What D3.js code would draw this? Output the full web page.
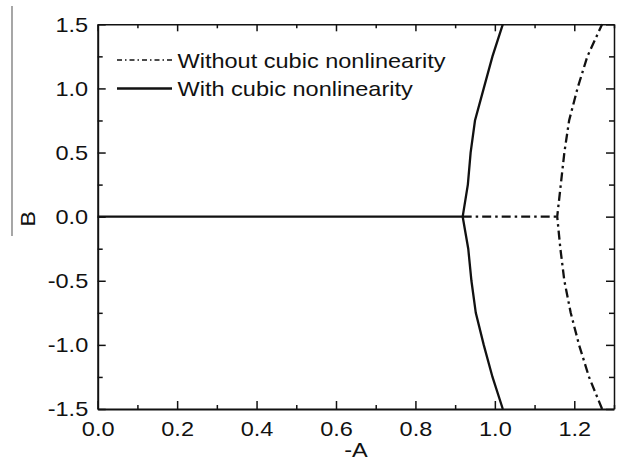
<!DOCTYPE html>
<html><head><meta charset="utf-8">
<script src="https://cdn.jsdelivr.net/npm/d3@7/dist/d3.min.js"></script>
<style>
html,body{margin:0;padding:0;background:#fff;}
svg text{font-family:"Liberation Sans",Arial,sans-serif;fill:#111;}
</style></head>
<body>
<svg id="chart" width="625" height="471"></svg>
<script>
// ---- data ----
const bValues = [-1.5, -1.25, -1.0, -0.75, -0.5, -0.25, 0, 0.25, 0.5, 0.75, 1.0, 1.25, 1.5];
const withCubicA = [1.020, 0.994, 0.972, 0.952, 0.941, 0.933, 0.919, 0.932, 0.939, 0.950, 0.972, 0.994, 1.020];
const withoutCubicA = [1.270, 1.237, 1.212, 1.191, 1.175, 1.165, 1.157, 1.166, 1.175, 1.187, 1.208, 1.233, 1.270];
const withBranchA = [0, 0.919];          // B = 0 branch (solid)
const withoutBranchA = [0.919, 1.157];   // B = 0 branch (dash-dot)
const xTicks = [0.0, 0.2, 0.4, 0.6, 0.8, 1.0, 1.2];
const yTicks = [-1.5, -1.0, -0.5, 0.0, 0.5, 1.0, 1.5];
const legendLabels = ["Without cubic nonlinearity", "With cubic nonlinearity"];
const xLabel = "-A", yLabel = "B";

const svg = d3.select("#chart");
const L = 97.7, R = 614, T = 24.3, Bt = 409;
const x = d3.scaleLinear().domain([0, 1.3]).range([L, R]);
const y = d3.scaleLinear().domain([-1.5, 1.5]).range([Bt, T]);
const STRETCH = 1.12;
function stretch(sel){ sel.each(function(){ const w=this.getComputedTextLength(); this.setAttribute("textLength", w*STRETCH); this.setAttribute("lengthAdjust","spacingAndGlyphs"); }); }

// scan artifact line at left
svg.append("line").attr("x1",12).attr("x2",12).attr("y1",6).attr("y2",236)
  .attr("stroke","#777").attr("stroke-width",1.3);

const minorX = d3.range(0, 1.31, 0.1).map(v=>+v.toFixed(2)).filter(v=>!xTicks.some(t=>Math.abs(t-v)<1e-6));
const minorY = d3.range(-1.5, 1.51, 0.25).map(v=>+v.toFixed(2)).filter(v=>!yTicks.some(t=>Math.abs(t-v)<1e-6));

function styleAxis(g, w){ g.select(".domain").attr("stroke","#111").attr("stroke-width",w); g.selectAll(".tick line").attr("stroke","#111").attr("stroke-width",1.5); }

// bottom
const gb = svg.append("g").attr("transform",`translate(0,${Bt})`)
  .call(d3.axisBottom(x).tickValues(xTicks).tickFormat(d3.format(".1f")).tickSizeInner(-8).tickSizeOuter(0).tickPadding(12.5));
styleAxis(gb,2);
gb.selectAll("text").attr("font-size",21).attr("fill","#111").call(stretch);
svg.append("g").attr("transform",`translate(0,${Bt})`)
  .call(d3.axisBottom(x).tickValues(minorX).tickFormat("").tickSizeInner(-4).tickSizeOuter(0))
  .call(g=>{g.select(".domain").remove(); g.selectAll("line").attr("stroke","#111").attr("stroke-width",1.5);});
// top
const gt = svg.append("g").attr("transform",`translate(0,${T})`)
  .call(d3.axisTop(x).tickValues(xTicks).tickFormat("").tickSizeInner(-7).tickSizeOuter(0));
styleAxis(gt,1.5);
svg.append("g").attr("transform",`translate(0,${T})`)
  .call(d3.axisTop(x).tickValues(minorX).tickFormat("").tickSizeInner(-4).tickSizeOuter(0))
  .call(g=>{g.select(".domain").remove(); g.selectAll("line").attr("stroke","#111").attr("stroke-width",1.5);});
// left
const gl = svg.append("g").attr("transform",`translate(${L},0)`)
  .call(d3.axisLeft(y).tickValues(yTicks).tickFormat(d3.format(".1f")).tickSizeInner(-8).tickSizeOuter(0).tickPadding(9.5));
styleAxis(gl,2);
gl.selectAll("text").attr("font-size",21).attr("fill","#111").text(d=>d3.format(".1f")(d).replace("−","-")).call(stretch);
svg.append("g").attr("transform",`translate(${L},0)`)
  .call(d3.axisLeft(y).tickValues(minorY).tickFormat("").tickSizeInner(-5).tickSizeOuter(0))
  .call(g=>{g.select(".domain").remove(); g.selectAll("line").attr("stroke","#111").attr("stroke-width",1.5);});
// right
const gr = svg.append("g").attr("transform",`translate(${R},0)`)
  .call(d3.axisRight(y).tickValues(yTicks).tickFormat("").tickSizeInner(-8).tickSizeOuter(0));
styleAxis(gr,1.5);
svg.append("g").attr("transform",`translate(${R},0)`)
  .call(d3.axisRight(y).tickValues(minorY).tickFormat("").tickSizeInner(-5).tickSizeOuter(0))
  .call(g=>{g.select(".domain").remove(); g.selectAll("line").attr("stroke","#111").attr("stroke-width",1.5);});

// curves
const line = d3.line().x(d=>x(d[0])).y(d=>y(d[1]));
const DASH = "9,4,2.5,4";
svg.append("path").datum(withoutBranchA.map(a=>[a,0])).attr("d",line)
  .attr("fill","none").attr("stroke","#111").attr("stroke-width",2.3).attr("stroke-dasharray",DASH);
svg.append("path").datum(withoutCubicA.map((a,i)=>[a,bValues[i]])).attr("d",line)
  .attr("fill","none").attr("stroke","#111").attr("stroke-width",2.3).attr("stroke-dasharray",DASH);
svg.append("path").datum(withBranchA.map(a=>[a,0])).attr("d",line)
  .attr("fill","none").attr("stroke","#111").attr("stroke-width",2.3);
svg.append("path").datum(withCubicA.map((a,i)=>[a,bValues[i]])).attr("d",line)
  .attr("fill","none").attr("stroke","#111").attr("stroke-width",2.3);

// legend
const leg = [{y:60, dash:DASH, w:1.6, baseline:68.3},{y:88.5, dash:null, w:2.5, baseline:95.5}];
leg.forEach((l,i)=>{
  svg.append("line").attr("x1",117).attr("x2",172).attr("y1",l.y).attr("y2",l.y)
    .attr("stroke","#111").attr("stroke-width",l.w).attr("stroke-dasharray",l.dash? "5,3,1.5,3":null);
  svg.append("text").attr("x",177.5).attr("y",l.baseline).attr("font-size",21).text(legendLabels[i]).call(stretch);
});

// axis titles
svg.append("text").attr("x",356).attr("y",457).attr("text-anchor","middle").attr("font-size",21).text(xLabel).call(stretch);
svg.append("text").attr("transform","translate(35,219) rotate(-90)").attr("text-anchor","middle").attr("font-size",21).text(yLabel).call(stretch);
</script>
</body></html>
